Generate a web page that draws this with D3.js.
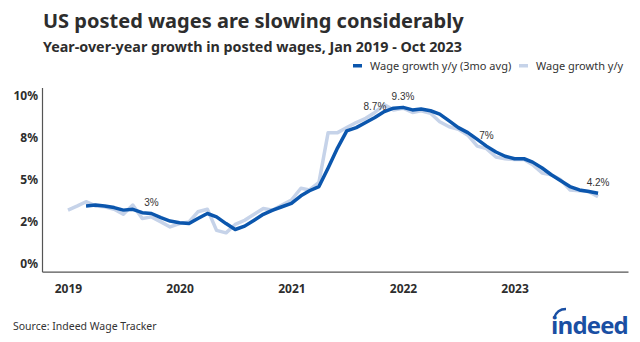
<!DOCTYPE html>
<html>
<head>
<meta charset="utf-8">
<script src="https://cdn.jsdelivr.net/npm/d3@7"></script>
<style>
  body { margin: 0; background: #fff; }
  svg { display: block; font-family: "Noto Sans", "Open Sans", sans-serif; }
</style>
</head>
<body>
<div id="chart"></div>
<script>
// monthly series, Jan 2019 - Oct 2023
var startMonth = [2019, 0];

var wageGrowth = [3.2, 3.45, 3.7, 3.45, 3.4, 3.25, 2.95, 3.5, 2.7, 2.8, 2.5, 2.2,
  2.4, 2.5, 3.1, 3.25, 2.0, 1.85, 2.35, 2.6, 2.95, 3.3, 3.2, 3.5,
  3.8, 4.5, 4.4, 4.85, 7.8, 7.8, 8.1, 8.4, 8.65, 9.0, 9.45, 9.15,
  9.25, 9.0, 9.1, 8.95, 8.45, 8.15, 8.0, 7.65, 7.0, 6.85, 6.35, 6.25,
  6.2, 6.2, 5.9, 5.4, 5.3, 5.0, 4.4, 4.35, 4.3, 4.0];

// 3-month average begins in Mar 2019
var wageGrowth3mo = [null, null, 3.45, 3.5, 3.45, 3.35, 3.2, 3.25, 3.05, 3.0, 2.75, 2.55,
  2.45, 2.4, 2.7, 3.0, 2.8, 2.4, 2.05, 2.25, 2.6, 2.95, 3.2, 3.4,
  3.6, 4.05, 4.35, 4.6, 5.7, 6.9, 7.9, 8.1, 8.4, 8.7, 9.05, 9.25,
  9.3, 9.15, 9.2, 9.1, 8.9, 8.5, 8.1, 7.8, 7.4, 7.0, 6.65, 6.4,
  6.25, 6.25, 6.05, 5.7, 5.3, 4.95, 4.6, 4.4, 4.3, 4.2];

// labelled points on the 3mo average (month index)
var labelIdx = [9, 33, 36, 45, 57];
var labelText = ["3%", "8.7%", "9.3%", "7%", "4.2%"];

var yTicks = [0, 2.5, 5, 7.5, 10];
var yTickLabels = ["0%", "2%", "5%", "8%", "10%"];
var xTickYears = [2019, 2020, 2021, 2022, 2023];

var seriesNames = ["Wage growth y/y (3mo avg)", "Wage growth y/y"];

var width = 640, height = 342;
var darkBlue = "#0b56ad", lightBlue = "#c6d3e9";

function monthDate(i) {
  return new Date(startMonth[0], startMonth[1] + i, 1);
}

var svg = d3.select("#chart").append("svg")
  .attr("width", width)
  .attr("height", height);

var x = d3.scaleTime()
  .domain([new Date(2018, 9, 8), new Date(2024, 0, 7)])
  .range([42, 628]);

var y = d3.scaleLinear()
  .domain([-0.45, 10.48])
  .range([271.6, 87.5]);

// titles
svg.append("text")
  .attr("x", 43).attr("y", 28)
  .attr("fill", "#2d2d2d")
  .attr("font-size", 20).attr("font-weight", 700)
  .text("US posted wages are slowing considerably");

svg.append("text")
  .attr("x", 43).attr("y", 52)
  .attr("fill", "#2d2d2d")
  .attr("font-size", 14.3).attr("font-weight", 700)
  .text("Year-over-year growth in posted wages, Jan 2019 - Oct 2023");

// legend
var legend = svg.append("g").attr("font-size", 11).attr("fill", "#333");
var legendX = [353, 519];
[darkBlue, lightBlue].forEach(function (c, i) {
  legend.append("rect")
    .attr("x", legendX[i]).attr("y", 64)
    .attr("width", 9).attr("height", 3.5)
    .attr("fill", c);
  legend.append("text")
    .attr("x", legendX[i] + 17).attr("y", 69.5)
    .text(seriesNames[i]);
});

// axes
svg.append("g")
  .attr("transform", "translate(42,0)")
  .call(d3.axisLeft(y)
    .tickValues(yTicks)
    .tickSize(0)
    .tickPadding(4)
    .tickFormat(function (d, i) { return yTickLabels[i]; }));

svg.append("g")
  .attr("transform", "translate(0,271.6)")
  .call(d3.axisBottom(x)
    .tickValues(xTickYears.map(function (yr) { return new Date(yr, 0, 1); }))
    .tickSize(0)
    .tickPadding(13)
    .tickFormat(d3.timeFormat("%Y")));

svg.selectAll(".domain").attr("stroke", "#555").attr("stroke-width", 1.2);
svg.selectAll(".tick text")
  .attr("fill", "#2d2d2d")
  .attr("font-size", 12)
  .attr("font-weight", 700)
  .attr("font-family", "\"Noto Sans\", sans-serif");

// lines
var line = d3.line()
  .defined(function (d) { return d != null; })
  .x(function (d, i) { return x(monthDate(i)); })
  .y(function (d) { return y(d); });

svg.append("path")
  .datum(wageGrowth)
  .attr("fill", "none")
  .attr("stroke", lightBlue)
  .attr("stroke-width", 3.5)
  .attr("stroke-linejoin", "round")
  .attr("d", line);

svg.append("path")
  .datum(wageGrowth3mo)
  .attr("fill", "none")
  .attr("stroke", darkBlue)
  .attr("stroke-width", 3.5)
  .attr("stroke-linejoin", "round")
  .attr("d", line);

// point labels
svg.append("g")
  .selectAll("text")
  .data(labelIdx)
  .enter()
  .append("text")
  .attr("x", function (d) { return x(monthDate(d)); })
  .attr("y", function (d) { return y(wageGrowth3mo[d]) - 7; })
  .attr("text-anchor", "middle")
  .attr("font-family", "\"Liberation Sans\", Arial, sans-serif")
  .attr("font-size", 10)
  .attr("fill", "#333")
  .text(function (d, i) { return labelText[i]; });

// footer
svg.append("text")
  .attr("x", 13).attr("y", 330)
  .attr("font-size", 10.5)
  .attr("fill", "#333")
  .text("Source: Indeed Wage Tracker");

var logo = svg.append("g").attr("fill", "#1a4fa3");
logo.append("text")
  .attr("x", 628).attr("y", 334)
  .attr("text-anchor", "end")
  .attr("font-family", "\"Open Sans\", sans-serif")
  .attr("font-size", 24).attr("font-weight", 700)
  .attr("letter-spacing", -0.8)
  .text("indeed");
logo.append("path")
  .attr("d", "M554,318 Q557,309 566,309")
  .attr("fill", "none")
  .attr("stroke", "#1a4fa3")
  .attr("stroke-width", 2.4);
</script>
</body>
</html>
